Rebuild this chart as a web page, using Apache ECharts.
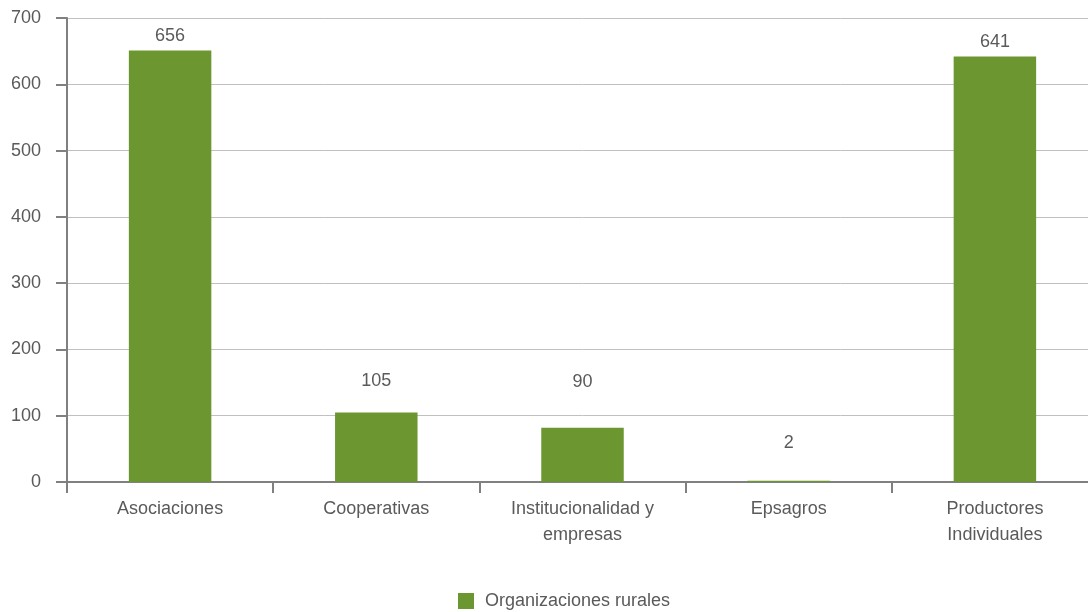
<!DOCTYPE html>
<html>
<head>
<meta charset="utf-8">
<script src="https://cdn.jsdelivr.net/npm/echarts@6/dist/echarts.min.js"></script>
<style>
html,body{margin:0;padding:0;background:#fff;overflow:hidden;}
#c{width:1098px;height:612px;}
</style>
</head>
<body>
<div id="c"></div>
<script>
const categories = ['Asociaciones', 'Cooperativas', 'Institucionalidad y\nempresas', 'Epsagros', 'Productores\nIndividuales'];
const barValues = [651, 105, 82, 2, 642];
const labelTexts = ['656', '105', '90', '2', '641'];
const seriesName = 'Organizaciones rurales';
const yTicks = [0, 100, 200, 300, 400, 500, 600, 700];

const labelDistances = [5, 22, 37, 29, 5];
const FONT = '"Liberation Sans", Arial, sans-serif';
const TXT = '#5a5a5a';
const FS = 18;

const chart = echarts.init(document.getElementById('c'), null, {renderer: 'canvas'});
chart.setOption({
  animation: false,
  backgroundColor: '#fff',
  grid: {left: 67, top: 18, right: 0, bottom: 130, containLabel: false},
  legend: {
    data: [seriesName],
    bottom: -3,
    left: 453,
    itemWidth: 16, itemHeight: 16, itemGap: 10,
    icon: 'rect',
    textStyle: {fontFamily: FONT, fontSize: FS, color: TXT, padding: [0, 0, 0, 6]}
  },
  xAxis: {
    type: 'category',
    data: categories,
    axisLine: {lineStyle: {color: '#808080', width: 2}},
    axisTick: {show: true, length: 11, lineStyle: {color: '#808080', width: 2}},
    axisLabel: {fontFamily: FONT, fontSize: FS, color: TXT, margin: 14, lineHeight: 26, interval: 0}
  },
  yAxis: {
    type: 'value',
    min: yTicks[0], max: yTicks[yTicks.length - 1], interval: 100,
    axisLine: {show: true, lineStyle: {color: '#808080', width: 2}},
    axisTick: {show: true, length: 11, lineStyle: {color: '#808080', width: 2}},
    splitLine: {lineStyle: {color: '#c0c0c0', width: 1}},
    axisLabel: {fontFamily: FONT, fontSize: FS, color: TXT, margin: 26}
  },
  series: [{
    name: seriesName,
    type: 'bar',
    barWidth: '40%',
    itemStyle: {color: '#6B9630'},
    data: barValues.map((v, i) => ({
      value: v,
      label: {
        show: true, position: 'top', distance: labelDistances[i],
        formatter: () => labelTexts[i],
        fontFamily: FONT, fontSize: FS, color: TXT
      }
    }))
  }]
});
</script>
</body>
</html>
